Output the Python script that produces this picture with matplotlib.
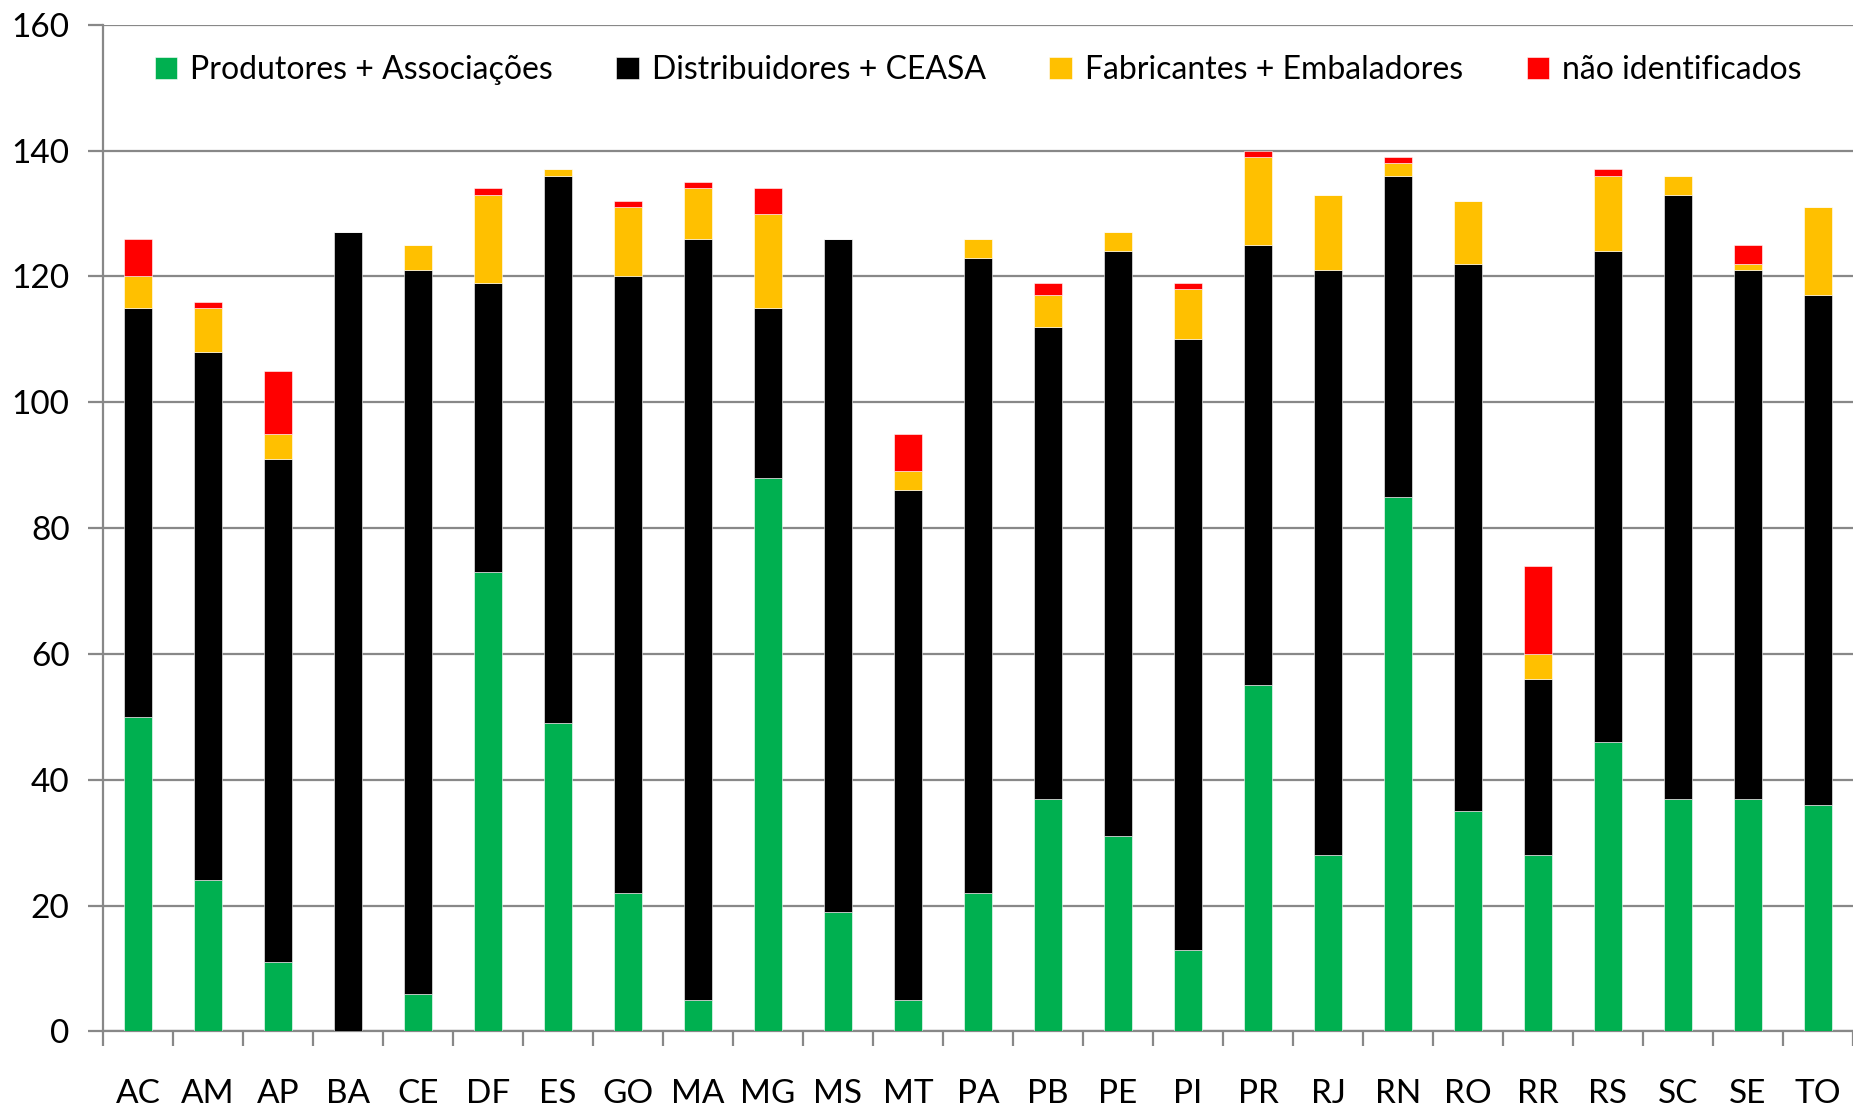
import matplotlib
matplotlib.use("Agg")
import matplotlib.pyplot as plt
import numpy as np

# states
states = ["AC", "AM", "AP", "BA", "CE", "DF", "ES", "GO", "MA", "MG", "MS", "MT", "PA",
          "PB", "PE", "PI", "PR", "RJ", "RN", "RO", "RR", "RS", "SC", "SE", "TO"]

# segment values
produtores = [50, 24, 11, 0, 6, 73, 49, 22, 5, 88, 19, 5, 22, 37, 31, 13, 55, 28, 85, 35, 28, 46, 37, 37, 36]
distribuidores = [65, 84, 80, 127, 115, 46, 87, 98, 121, 27, 107, 81, 101, 75, 93, 97, 70, 93, 51, 87, 28, 78, 96, 84, 81]
fabricantes = [5, 7, 4, 0, 4, 14, 1, 11, 8, 15, 0, 3, 3, 5, 3, 8, 14, 12, 2, 10, 4, 12, 3, 1, 14]
nao_ident = [6, 1, 10, 0, 0, 1, 0, 1, 1, 4, 0, 6, 0, 2, 0, 1, 1, 0, 1, 0, 14, 1, 0, 3, 0]

series = [
    ("Produtores + Associações", produtores, "#00B050"),
    ("Distribuidores + CEASA", distribuidores, "#000000"),
    ("Fabricantes + Embaladores", fabricantes, "#FFC000"),
    ("não identificados", nao_ident, "#FF0000"),
]

plt.rcParams['font.family'] = ['Lato', 'DejaVu Sans']

fig = plt.figure(figsize=(18.53, 11.07), dpi=100)
ax = fig.add_axes([0.0555, 0.0683, 0.9445, 0.9093])

x = np.arange(len(states))
bottom = np.zeros(len(states))
for label, vals, color in series:
    vals = np.array(vals, dtype=float)
    ax.bar(x, vals, 0.4, bottom=bottom, color=color, label=label,
           edgecolor="white", linewidth=0.4, zorder=3)
    bottom += vals

ax.set_ylim(0, 160)
ax.set_xlim(-0.5, len(states) - 0.5)
ax.set_yticks(range(0, 161, 20))
ax.grid(axis="y", color="#888888", linewidth=1.6, zorder=0)
ax.set_axisbelow(True)

ax.set_xticks(x)
ax.set_xticklabels(states)
ax.set_xticks(np.arange(-0.5, len(states), 1), minor=True)
ax.tick_params(axis="x", which="major", length=0, pad=34, labelsize=24)
ax.tick_params(axis="x", which="minor", length=11, width=1.6, color="#888888", direction="out")
ax.tick_params(axis="y", length=11, width=1.6, color="#888888", labelsize=24, pad=13)

for s in ["top", "right"]:
    ax.spines[s].set_visible(False)
for s in ["left", "bottom"]:
    ax.spines[s].set_color("#888888")
    ax.spines[s].set_linewidth(1.6)

leg = ax.legend(loc="center", bbox_to_anchor=(0.5, 0.955), ncol=4, frameon=False,
                fontsize=23, handlelength=0.7, handleheight=0.7, handletextpad=0.4,
                columnspacing=2.0)

fig.savefig("out.png", dpi=100)
